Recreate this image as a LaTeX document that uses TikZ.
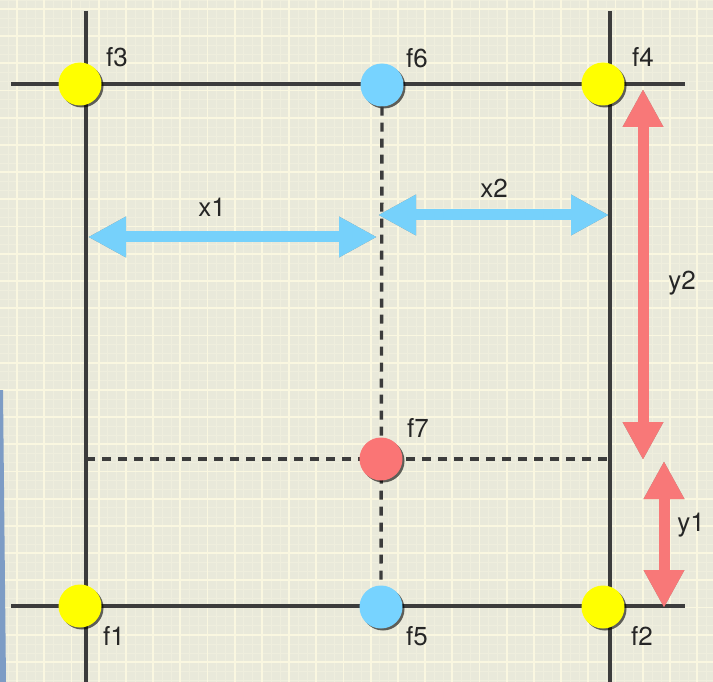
\documentclass[tikz,border=0pt]{standalone}
\usepackage{fontspec}
\setmainfont{TeX Gyre Heros}
\usetikzlibrary{arrows.meta,shadows}
\definecolor{bg}{HTML}{E9E9DA}
\definecolor{gridmaj}{HTML}{FAF7E0}
\definecolor{gridmin}{HTML}{EFEEDD}
\definecolor{frameln}{HTML}{3C3C3C}
\definecolor{ptyellow}{HTML}{FFFF00}
\definecolor{ptblue}{HTML}{77D3FF}
\definecolor{ptred}{HTML}{FA7575}
\definecolor{arrblue}{HTML}{76D1FB}
\definecolor{arrred}{HTML}{F87878}
\definecolor{txt}{HTML}{262626}
\definecolor{edge}{HTML}{7D9CC5}
\tikzset{
  pt/.style={circle, minimum size=43pt, inner sep=0pt,
    drop shadow={shadow xshift=2pt, shadow yshift=-2pt, opacity=0.6, fill=black}},
  lbl/.style={text=txt, font=\fontsize{26}{30}\selectfont, inner sep=0pt},
  frame/.style={draw=frameln, line width=3.2pt},
  guide/.style={draw=frameln, line width=3.4pt, dash pattern=on 9pt off 7pt},
  dimarrow/.style={line width=11pt,
    {Triangle[width=38pt,length=38pt]}-{Triangle[width=38pt,length=38pt]}},
  arrshadow/.style={dimarrow, draw=black, opacity=0.4},
}
\begin{document}
\begin{tikzpicture}[x=1pt,y=-1pt]
\useasboundingbox (0,0) rectangle (713,682);
\fill[bg] (0,0) rectangle (713,682);
% grid paper
\foreach \i in {-2,...,80} {
  \draw[gridmin, line width=0.8pt] ({17+9.07*\i},0) -- ++(0,682);
  \draw[gridmin, line width=0.8pt] (0,{9+9.07*\i}) -- ++(713,0);
}
\foreach \i in {0,...,27} {
  \draw[gridmaj, line width=1.8pt] ({17+27.2*\i},0) -- ++(0,682);
  \draw[gridmaj, line width=1.8pt] (0,{9+27.2*\i}) -- ++(713,0);
}
\fill[edge] (0,390) -- (3,390) -- (6,682) -- (0,682) -- cycle;

% frame lines
\coordinate (tl) at (11,84);  \coordinate (tr) at (685,84);
\coordinate (bl) at (11,606); \coordinate (br) at (685,606);
\coordinate (lt) at (86,11);  \coordinate (lb) at (86,682);
\coordinate (rt) at (610,11); \coordinate (rb) at (610,682);
\draw[frame] (tl) -- (tr);
\draw[frame] (bl) -- (br);
\draw[frame] (lt) -- (lb);
\draw[frame] (rt) -- (rb);

% points
\node[pt, fill=ptyellow] (f3) at (80,84) {};
\node[pt, fill=ptblue]   (f6) at (382,85) {};
\node[pt, fill=ptyellow] (f4) at (603,84) {};
\node[pt, fill=ptyellow] (f1) at (80,606) {};
\node[pt, fill=ptblue]   (f5) at (381,607) {};
\node[pt, fill=ptyellow] (f2) at (603,607) {};

% dashed guides
\coordinate (gl) at (86,459);
\coordinate (gr) at (610,459);
\draw[guide] (gl) -- (gr);
\draw[guide] (f6.south) -- (f5.north);
\node[pt, fill=ptred] (f7) at (381,459) {};

% labels
\node[lbl] (lf3) at (117,57) {f3};
\node[lbl] (lf6) at (417,58) {f6};
\node[lbl] (lf4) at (643,57) {f4};
\node[lbl] (lf7) at (418,428) {f7};
\node[lbl] (lf1) at (114,636) {f1};
\node[lbl] (lf5) at (417,636) {f5};
\node[lbl] (lf2) at (642,636) {f2};
\node[lbl] (lx1) at (212,207) {x1};
\node[lbl] (lx2) at (494,188) {x2};
\node[lbl] (ly2) at (682,283) {y2};
\node[lbl] (ly1) at (691,525) {y1};

% dimension arrows
\coordinate (x1a) at (88,237);  \coordinate (x1b) at (377,237);
\coordinate (x2a) at (378,215); \coordinate (x2b) at (609,215);
\coordinate (y2a) at (643,89);  \coordinate (y2b) at (643,460);
\coordinate (y1a) at (664,461); \coordinate (y1b) at (664,608);
\begin{scope}[shift={(2,-2)}]
  \draw[arrshadow] (x1a) -- (x1b);
  \draw[arrshadow] (x2a) -- (x2b);
\end{scope}
\begin{scope}[shift={(2.5,1)}]
  \draw[arrshadow] (y2a) -- (y2b);
  \draw[arrshadow] (y1a) -- (y1b);
\end{scope}
\draw[dimarrow, draw=arrblue] (x1a) -- (x1b);
\draw[dimarrow, draw=arrblue] (x2a) -- (x2b);
\draw[dimarrow, draw=arrred] (y2a) -- (y2b);
\draw[dimarrow, draw=arrred] (y1a) -- (y1b);
\end{tikzpicture}
\end{document}
